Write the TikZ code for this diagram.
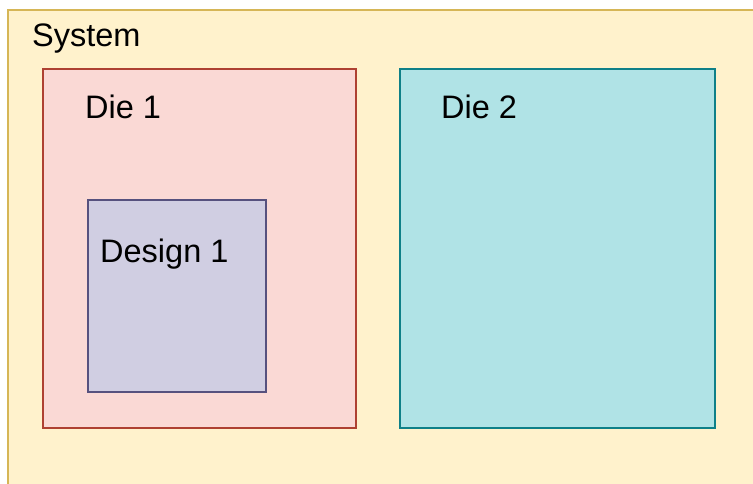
\documentclass[tikz,border=0pt]{standalone}
\usepackage{fontspec}
\setmainfont{Liberation Sans}
\definecolor{sysfill}{HTML}{FFF2CC}
\definecolor{sysline}{HTML}{D6B656}
\definecolor{diefill}{HTML}{FAD9D5}
\definecolor{dieline}{HTML}{AE4132}
\definecolor{tealfill}{HTML}{B0E3E6}
\definecolor{tealline}{HTML}{0E8088}
\definecolor{desfill}{HTML}{D0CEE2}
\definecolor{desline}{HTML}{56517E}
\tikzset{
  blk/.style={line width=2.3pt},
  lbl/.style={anchor=base west, inner sep=0pt, font=\fontsize{32.5}{38}\selectfont}
}
\begin{document}
\begin{tikzpicture}[x=1pt,y=-1pt]
\useasboundingbox (0,0) rectangle (753,484);
% system container (runs past the right and bottom edges)
\draw[blk, draw=sysline, fill=sysfill] (8,10) rectangle (770,500);
\node[lbl] (system) at (32,47) {System};
% dies
\draw[blk, draw=dieline, fill=diefill] (43,69) rectangle (356,428);
\node[lbl] (die1) at (85,119) {Die 1};
\draw[blk, draw=tealline, fill=tealfill] (400,69) rectangle (715,428);
\node[lbl] (die2) at (441,119) {Die 2};
% design inside die 1
\draw[blk, draw=desline, fill=desfill] (88,200) rectangle (266,392);
\node[lbl] (design1) at (100,262) {Design 1};
\end{tikzpicture}
\end{document}
